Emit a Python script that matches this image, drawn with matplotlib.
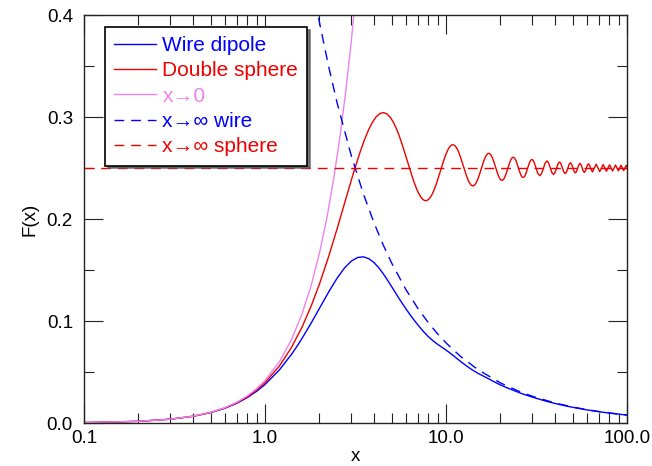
import matplotlib
matplotlib.use("Agg")
import matplotlib.pyplot as plt
from matplotlib.ticker import FixedLocator, NullFormatter

plt.rcParams['font.family'] = ['Liberation Sans', 'DejaVu Sans']

# Wire dipole (blue, solid)
wire_x = [0.1, 0.2, 0.3, 0.4, 0.5, 0.6, 0.7, 0.8, 0.9, 1.0,
          1.2, 1.4, 1.5, 1.6, 1.8, 2.0,
          2.25, 2.5, 2.75, 3.0, 3.25, 3.5, 3.75, 4.0, 4.25, 4.5, 4.75, 5.0,
          5.5, 6.0, 6.5, 7.0, 7.5, 8.0, 8.5, 9.0, 9.5, 10.0, 10.5, 11.0, 11.5, 12.0, 12.5,
          13, 14, 15, 16, 17, 18, 19, 20,
          22, 24, 26, 28, 30,
          35, 40, 45, 50,
          60, 70, 80, 90, 100]
wire_y = [0.000416, 0.001660, 0.003716, 0.006561, 0.010160, 0.014470, 0.019443, 0.025018, 0.031131, 0.037716,
          0.051994, 0.067231, 0.075010, 0.082790, 0.098057, 0.112475,
          0.128575, 0.141896, 0.152009, 0.158770, 0.162292, 0.162898, 0.161060, 0.157326, 0.152260, 0.146386, 0.140148, 0.133890,
          0.122157, 0.112013, 0.103397, 0.096025, 0.089751, 0.084567, 0.080420, 0.077092, 0.074234, 0.071513, 0.068745, 0.065929, 0.063164, 0.060549, 0.058139,
          0.055893, 0.051932, 0.048767, 0.046216, 0.043807, 0.041439, 0.039258, 0.037298,
          0.034142, 0.031484, 0.029065, 0.027075, 0.025382,
          0.021838, 0.019155, 0.017074, 0.015410,
          0.012883, 0.011065, 0.009702, 0.008633, 0.007780]

# Double sphere (red, solid) - coarse readings
sphere_x = [0.1, 0.15, 0.2, 0.3, 0.4, 0.5, 0.6, 0.7, 0.8, 0.9, 1.0, 1.2, 1.4, 1.6, 1.8, 2.0, 2.25, 2.5, 2.75, 3.0,
            3.1416, 3.5343, 3.927, 4.3197, 4.7124, 5.1051, 5.4978, 5.8905, 6.2832, 6.6759, 7.0686, 7.4613,
            7.854, 8.2467, 8.6394, 9.0321, 9.4248, 9.8175, 10.2102, 10.6029, 10.9956, 11.3883, 11.781, 12.1737, 12.5664,
            13.3518, 14.1372, 14.9226, 15.708, 16.4934, 17.2788, 18.0642, 18.8496, 19.635, 20.4204, 21.2058, 21.9911,
            22.7765, 23.5619, 24.3473, 25.1327, 25.9181, 26.7035, 27.4889, 28.2743, 29.0597, 29.8451, 30.6305, 31.4159,
            32.9867, 34.5575, 36.1283, 37.6991, 39.2699, 40.8407, 42.4115, 43.9823, 45.5531, 47.1239, 48.6947,
            50.2655, 51.8363, 53.4071, 54.9779, 56.5487, 58.1195, 59.6903, 61.2611, 62.8319, 64.4026, 65.9734,
            67.5442, 69.115, 70.6858, 72.2566, 73.8274, 75.3982, 76.969, 78.5398, 80.1106, 81.6814, 83.2522,
            84.823, 86.3938, 87.9646, 89.5354, 91.1062, 92.677, 94.2478, 95.8186, 97.3894, 98.9602, 100.531]
sphere_y = [0.000416, 0.000937, 0.001663, 0.003733, 0.006613, 0.010287, 0.014732, 0.019922, 0.025826, 0.032409,
            0.039632, 0.055825, 0.074027, 0.093817, 0.114743, 0.136338, 0.163548, 0.190153, 0.215304, 0.238240,
            0.25, 0.277069, 0.295016, 0.303469, 0.303052, 0.295243, 0.282154, 0.266242, 0.25, 0.235669, 0.224991, 0.219044,
            0.218169, 0.221993, 0.229538, 0.239408, 0.25, 0.259745, 0.267314, 0.271784, 0.272737, 0.270282, 0.265005, 0.257859, 0.25,
            0.236760, 0.232316, 0.238154, 0.25, 0.260718, 0.264469, 0.259786, 0.25, 0.240997, 0.237757, 0.241664, 0.25,
            0.257762, 0.260610, 0.257261, 0.25, 0.243179, 0.240638, 0.243569, 0.25, 0.256083, 0.258377, 0.255771, 0.25,
            0.242421, 0.25, 0.256920, 0.25, 0.243634, 0.25, 0.255895, 0.25, 0.244512, 0.25, 0.255134,
            0.25, 0.245177, 0.25, 0.254547, 0.25, 0.245699, 0.25, 0.254081, 0.25, 0.246118, 0.25,
            0.253701, 0.25, 0.246463, 0.25, 0.253386, 0.25, 0.246752, 0.25, 0.253121, 0.25, 0.246997,
            0.25, 0.252894, 0.25, 0.247208, 0.25, 0.252698, 0.25, 0.247391, 0.25, 0.252526, 0.25]

# Double sphere - extra readings in between, to keep the wiggles round
sphere_x_fine = [3.3379, 3.7306, 4.1233, 4.516, 4.9087, 5.3014, 5.6941, 6.0868,
                 6.4795, 6.8722, 7.2649, 7.6576, 8.0503, 8.443, 8.8357, 9.2284,
                 9.6211, 10.0138, 10.4065, 10.7992, 11.1919, 11.5846, 11.9773, 12.37,
                 12.9591, 13.7445, 14.5299, 15.3153, 16.1007, 16.8861, 17.6715, 18.4569,
                 19.2423, 20.0277, 20.8131, 21.5984, 22.3838, 23.1692, 23.9546, 24.74,
                 25.5254, 26.3108, 27.0962, 27.8816, 28.667, 29.4524, 30.2378, 31.0232,
                 32.2013, 33.7721, 35.3429, 36.9137, 38.4845, 40.0553, 41.6261, 43.1969,
                 44.7677, 46.3385, 47.9093, 49.4801, 51.0509, 52.6217, 54.1925, 55.7633,
                 57.3341, 58.9049, 60.4757, 62.0465]
sphere_y_fine = [0.264612, 0.287230, 0.300412, 0.304295, 0.299952, 0.289210, 0.274392, 0.258013,
                 0.242473, 0.229789, 0.221388, 0.217980, 0.219542, 0.225380, 0.234281, 0.244715,
                 0.255069, 0.263870, 0.269975, 0.272705, 0.271909, 0.267944, 0.261597, 0.253943,
                 0.242618, 0.233195, 0.234104, 0.243753, 0.255942, 0.263678, 0.263070, 0.255183,
                 0.245028, 0.238467, 0.238903, 0.245571, 0.254274, 0.259969, 0.259642, 0.253867,
                 0.246252, 0.241222, 0.241476, 0.246569, 0.253337, 0.257842, 0.257639, 0.253084,
                 0.244510, 0.244766, 0.255002, 0.254789, 0.245407, 0.245587, 0.254247, 0.254093,
                 0.246051, 0.246185, 0.253690, 0.253573, 0.246537, 0.246641, 0.253262, 0.253170,
                 0.246917, 0.246999, 0.252923, 0.252849]

# x -> 0 limit (violet)
small_x = [0.1, 0.2, 0.3, 0.4, 0.5, 0.6, 0.7, 0.8, 0.9, 1.0, 1.2, 1.4, 1.6, 1.8, 2.0,
           2.2, 2.4, 2.6, 2.8, 3.0, 3.2]
small_y = [0.000417, 0.001667, 0.00375, 0.006667, 0.010417, 0.015, 0.020417, 0.026667, 0.03375, 0.041667,
           0.06, 0.081667, 0.106667, 0.135, 0.166667, 0.201667, 0.24, 0.281667, 0.326667, 0.375, 0.426667]

# x -> inf limit, wire (blue, dashed)
large_wire_x = [1.9, 2.0, 2.25, 2.5, 3.0, 3.5, 4.0, 4.5, 5.0, 6.0, 7.0, 8.0, 9.0, 10.0, 12.0, 15.0,
                20.0, 25.0, 30.0, 40.0, 50.0, 60.0, 70.0, 80.0, 100.0]
large_wire_y = [0.41337, 0.392699, 0.349066, 0.314159, 0.261799, 0.224399, 0.19635, 0.174533, 0.15708, 0.1309,
                0.1122, 0.098175, 0.087266, 0.07854, 0.06545, 0.05236, 0.03927, 0.031416, 0.02618, 0.019635,
                0.015708, 0.01309, 0.01122, 0.009817, 0.007854]

# x -> inf limit, sphere (red, dashed)
large_sphere_x = [0.1, 100.0]
large_sphere_y = [0.25, 0.25]

labels = ['Wire dipole', 'Double sphere', 'x\u21920', 'x\u2192\u221e wire', 'x\u2192\u221e sphere']
blue = '#0000ff'
red = '#ee0000'
violet = '#ee82ee'
dash = (0, (7, 5))

# merge the two sets of red readings in x order
red_pts = sorted(zip(sphere_x + sphere_x_fine, sphere_y + sphere_y_fine))
red_x = [p[0] for p in red_pts]
red_y = [p[1] for p in red_pts]

fig = plt.figure(figsize=(6.52, 4.66), dpi=100)
ax = fig.add_axes([84 / 652, 43 / 466, 543 / 652, 408 / 466])

ax.plot(wire_x, wire_y, color=blue, lw=1.0, label=labels[0])
ax.plot(red_x, red_y, color=red, lw=1.0, label=labels[1])
ax.plot(small_x, small_y, color=violet, lw=1.0, label=labels[2])
ax.plot(large_wire_x, large_wire_y, color=blue, lw=1.0, ls=dash, label=labels[3])
ax.plot(large_sphere_x, large_sphere_y, color=red, lw=1.0, ls=dash, label=labels[4])

ax.set_xscale('log')
ax.set_xlim(0.1, 100)
ax.set_ylim(0, 0.4)

ax.xaxis.set_major_locator(FixedLocator([0.1, 1, 10, 100]))
ax.set_xticklabels(['0.1', '1.0', '10.0', '100.0'])
minors = [m * d for d in (0.1, 1, 10) for m in range(2, 10)]
ax.xaxis.set_minor_locator(FixedLocator(minors))
ax.xaxis.set_minor_formatter(NullFormatter())

ax.yaxis.set_major_locator(FixedLocator([0.0, 0.1, 0.2, 0.3, 0.4]))
ax.set_yticklabels(['0.0', '0.1', '0.2', '0.3', '0.4'])
ax.yaxis.set_minor_locator(FixedLocator([0.05, 0.15, 0.25, 0.35]))

ax.tick_params(which='both', direction='in', top=True, right=True, width=0.8, color='#222222')
ax.tick_params(which='major', length=13.5)
ax.tick_params(which='minor', length=7)
ax.tick_params(axis='y', which='major', labelsize=13.5, pad=8)
ax.tick_params(axis='x', which='major', labelsize=13.5, pad=5)
for sp in ax.spines.values():
    sp.set_linewidth(1.0)
    sp.set_color('#222222')

ax.set_xlabel('x', fontsize=13.5, labelpad=1)
ax.set_ylabel('F(x)', fontsize=13.5, labelpad=6)

leg = ax.legend(loc='upper left', bbox_to_anchor=(0.0387, 0.971), borderaxespad=0,
                fontsize=15, frameon=True, fancybox=False, shadow={'color': '0.35', 'alpha': 0.8},
                edgecolor='black', framealpha=1, labelcolor='linecolor',
                handlelength=2.0, handletextpad=0.3, labelspacing=0.3, borderpad=0.45)
leg.get_frame().set_linewidth(1.2)

fig.savefig('out.png', dpi=100, facecolor='white')
